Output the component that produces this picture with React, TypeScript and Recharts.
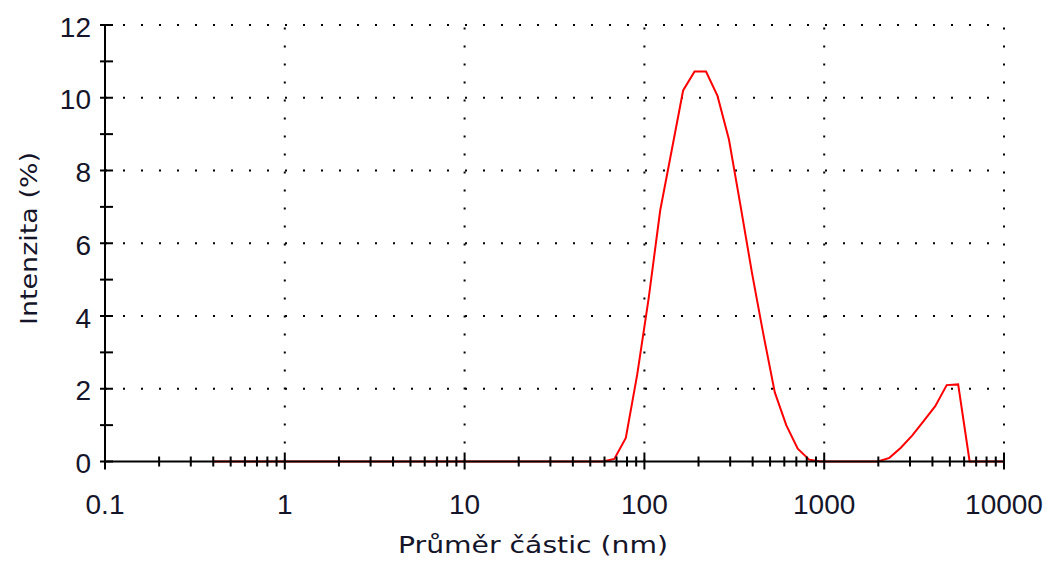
import { LineChart, Line, XAxis, YAxis, ReferenceLine, Label } from 'recharts';

// Malvern size classes (nm)
const sizes = [
  0.4, 0.463, 0.536, 0.621, 0.719, 0.833, 0.955, 1.106, 1.281, 1.484,
  1.718, 1.99, 2.305, 2.669, 3.091, 3.58, 4.145, 4.801, 5.56, 6.439,
  7.456, 8.635, 10, 11.7, 13.54, 15.69, 18.17, 21.04, 24.36, 28.21,
  32.67, 37.84, 43.82, 50.75, 58.77, 68.06, 78.82, 91.28, 105.7, 122.4,
  141.8, 164.2, 190.1, 220.2, 255, 295.3, 342, 396.1, 458.7, 531.2,
  615.1, 712.4, 825, 955.4, 1106, 1281, 1484, 1718, 1990, 2305,
  2669, 3091, 3580, 4145, 4801, 5560, 6439, 7456, 8635, 10000,
];

// intensity (%)
const intensity = [
  0, 0, 0, 0, 0, 0, 0, 0, 0, 0,
  0, 0, 0, 0, 0, 0, 0, 0, 0, 0,
  0, 0, 0, 0, 0, 0, 0, 0, 0, 0,
  0, 0, 0, 0, 0, 0.07, 0.65, 2.4, 4.5, 6.9,
  8.55, 10.2, 10.72, 10.72, 10.05, 8.85, 7.05, 5.2, 3.5, 1.9,
  1.0, 0.35, 0.05, 0, 0, 0, 0, 0, 0, 0.1,
  0.38, 0.72, 1.12, 1.52, 2.1, 2.12, 0, 0, 0, 0,
];

const xMajor = [0.1, 1, 10, 100, 1000, 10000];
const xMinorSteps = [2, 3, 4, 5, 6, 7, 8, 9];
const yTicks = [0, 1, 2, 3, 4, 5, 6, 7, 8, 9, 10, 11, 12];
const yMajor = [0, 2, 4, 6, 8, 10, 12];

const data = sizes.map((s, i) => ({ size: s, value: intensity[i] }));

const xTicks: number[] = [];
xMajor.forEach((m, i) => {
  xTicks.push(m);
  if (i < xMajor.length - 1) xMinorSteps.forEach((k) => xTicks.push(m * k));
});

const TEXT = '#15152a';
const NUM_FONT = '"Liberation Sans", Arial, sans-serif';
const LABEL_FONT = '"DejaVu Sans", Verdana, sans-serif';

function XTick(props: any) {
  const { x, y, payload } = props;
  const major = xMajor.includes(payload.value);
  return (
    <g>
      <line x1={x} x2={x} y1={major ? y - 9 : y - 5} y2={major ? y + 8 : y + 5} stroke="#000" strokeWidth={2} />
      {major && (
        <text x={x} y={y + 52} textAnchor="middle" fontFamily={NUM_FONT} fontSize={28} fill={TEXT}>
          {payload.value}
        </text>
      )}
    </g>
  );
}

function YTick(props: any) {
  const { x, y, payload } = props;
  const major = yMajor.includes(payload.value);
  return (
    <g>
      <line x1={x - 5} x2={x + 8} y1={y} y2={y} stroke="#000" strokeWidth={2} />
      {major && (
        <text x={x - 14} y={y + 11.5} textAnchor="end" fontFamily={NUM_FONT} fontSize={28} fill={TEXT}>
          {payload.value}
        </text>
      )}
    </g>
  );
}

const gridStyle = { stroke: '#000', strokeWidth: 2, strokeDasharray: '2 16' };

export default function App() {
  return (
    <LineChart width={1043} height={558} data={data} margin={{ top: 17, right: 47, left: 0, bottom: 0 }}>
      {yMajor.filter((v) => v > 0).map((v) => (
        <ReferenceLine key={`h${v}`} y={v} {...gridStyle} />
      ))}
      {xMajor.filter((v) => v > 0.1).map((v) => (
        <ReferenceLine key={`v${v}`} x={v} {...gridStyle} />
      ))}
      <XAxis
        dataKey="size"
        type="number"
        scale="log"
        domain={[0.1, 10000]}
        ticks={xTicks}
        interval={0}
        tickSize={0}
        tickMargin={0}
        tickLine={false}
        tick={XTick}
        height={104.5}
        axisLine={{ stroke: '#000', strokeWidth: 2 }}
      >
        <Label
          content={() => (
            <text x={525} y={545} textAnchor="middle" fontFamily={LABEL_FONT} fontSize={23} fill={TEXT} textLength={270} lengthAdjust="spacingAndGlyphs">
              Průměr částic (nm)
            </text>
          )}
        />
      </XAxis>
      <YAxis
        type="number"
        domain={[0, 12]}
        ticks={yTicks}
        interval={0}
        tickSize={0}
        tickMargin={0}
        tickLine={false}
        tick={YTick}
        width={97}
        axisLine={{ stroke: '#000', strokeWidth: 2 }}
      >
        <Label
          content={() => (
            <text x={28.5} y={230.5} transform="rotate(-90 28.5 230.5)" textAnchor="middle" fontFamily={LABEL_FONT} fontSize={23} fill={TEXT} textLength={173} lengthAdjust="spacingAndGlyphs">
              Intenzita (%)
            </text>
          )}
        />
      </YAxis>
      <Line dataKey="value" type="linear" stroke="#ff0000" strokeWidth={2} dot={false} activeDot={false} isAnimationActive={false} />
    </LineChart>
  );
}
